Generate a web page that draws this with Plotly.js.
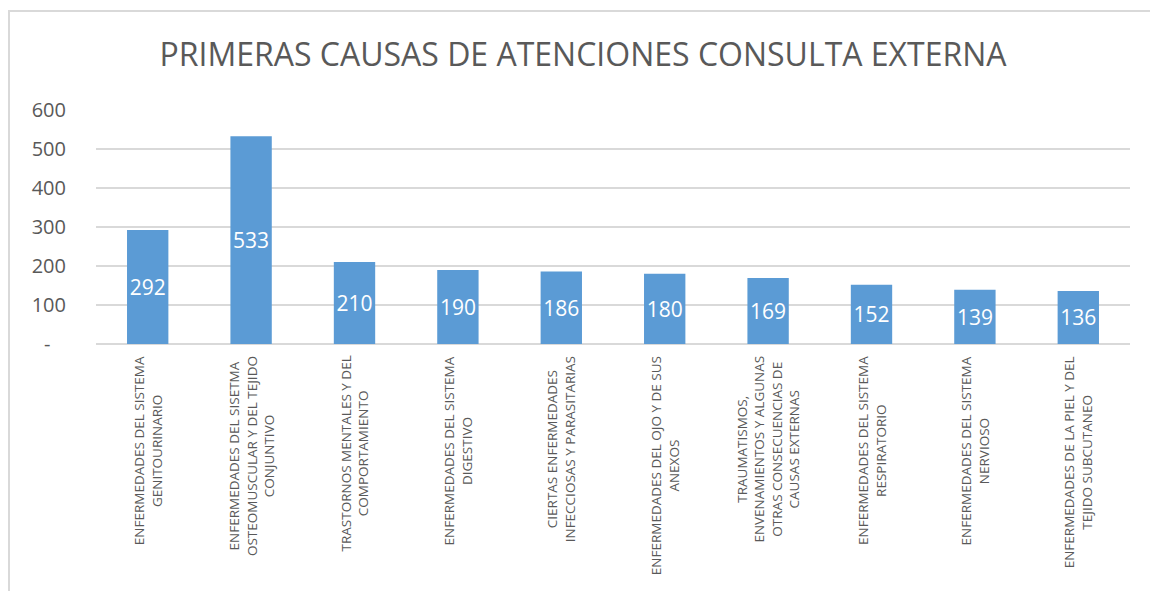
<!DOCTYPE html>
<html>
<head>
<meta charset="utf-8">
<script src="https://cdn.plot.ly/plotly-3.0.1.min.js"></script>
<style>
html,body{margin:0;padding:0;width:1150px;height:591px;overflow:hidden;background:#fff;}
#wrap{position:absolute;left:8px;top:10px;width:1150px;height:591px;border-left:2px solid #d9d9d9;border-top:2px solid #d9d9d9;box-sizing:border-box;}
#chart{position:absolute;left:-2px;top:-2px;width:1150px;height:591px;}
</style>
</head>
<body>
<div id="wrap"><div id="chart"></div></div>
<script>
const categories = [
  "ENFERMEDADES DEL SISTEMA<br>GENITOURINARIO",
  "ENFERMEDADES DEL SISETMA<br>OSTEOMUSCULAR Y DEL TEJIDO<br>CONJUNTIVO",
  "TRASTORNOS MENTALES Y DEL<br>COMPORTAMIENTO",
  "ENFERMEDADES DEL SISTEMA<br>DIGESTIVO",
  "CIERTAS ENFERMEDADES<br>INFECCIOSAS Y PARASITARIAS",
  "ENFERMEDADES DEL OJO Y DE SUS<br>ANEXOS",
  "TRAUMATISMOS,<br>ENVENAMIENTOS Y ALGUNAS<br>OTRAS CONSECUENCIAS DE<br>CAUSAS EXTERNAS",
  "ENFERMEDADES DEL SISTEMA<br>RESPIRATORIO",
  "ENFERMEDADES DEL SISTEMA<br>NERVIOSO",
  "ENFERMEDADES DE LA PIEL Y DEL<br>TEJIDO SUBCUTANEO"
];
const values = [292, 533, 210, 190, 186, 180, 169, 152, 139, 136];
const yTickVals = [0, 100, 200, 300, 400, 500, 600];
const yTickText = ["-\u00a0\u00a0\u00a0", "100", "200", "300", "400", "500", "600"];
const titleText = "PRIMERAS CAUSAS DE ATENCIONES CONSULTA EXTERNA";

const catIdx = categories.map((c, i) => i);

const trace = {
  type: "bar",
  x: catIdx,
  y: values,
  width: 0.4,
  marker: {color: "#5B9BD5", line: {width: 0}},
  text: values.map(String),
  textposition: "inside",
  insidetextanchor: "middle",
  constraintext: "none",
  textfont: {family: "Open Sans, sans-serif", size: 21, color: "#ffffff"},
  textangle: 0,
  hoverinfo: "none"
};

const annotations = categories.map((c, i) => ({
  x: i, xref: "x",
  y: 0, yref: "paper",
  yanchor: "top", xanchor: "center",
  yshift: -10,
  text: c,
  textangle: -90,
  align: "center",
  showarrow: false,
  font: {family: "Open Sans, sans-serif", size: 13.5, color: "#595959"}
}));

const layout = {
  width: 1150, height: 591,
  margin: {l: 88, r: 28, t: 100, b: 257, pad: 0},
  paper_bgcolor: "rgba(0,0,0,0)",
  plot_bgcolor: "rgba(0,0,0,0)",
  showlegend: false,
  title: {
    text: titleText,
    font: {family: "Open Sans, sans-serif", size: 32, color: "#595959"},
    x: 0.5, xref: "container", xanchor: "center",
    y: 1 - 45/591, yref: "container", yanchor: "middle"
  },
  xaxis: {
    type: "linear",
    range: [-0.5, 9.5],
    showticklabels: false,
    showgrid: false,
    zeroline: false,
    showline: false,
    ticks: "",
    fixedrange: true
  },
  yaxis: {
    range: [0, 600],
    tickvals: yTickVals,
    ticktext: yTickText,
    tickfont: {family: "Open Sans, sans-serif", size: 20, color: "#595959"},
    ticks: "",
    ticklabelstandoff: 29,
    showgrid: true,
    gridcolor: "#d9d9d9",
    gridwidth: 1.5,
    zeroline: true,
    zerolinecolor: "#d9d9d9",
    zerolinewidth: 1.5,
    showline: false,
    fixedrange: true
  },
  annotations: annotations
};

Plotly.newPlot("chart", [trace], layout, {displayModeBar: false, staticPlot: true});
</script>
</body>
</html>
